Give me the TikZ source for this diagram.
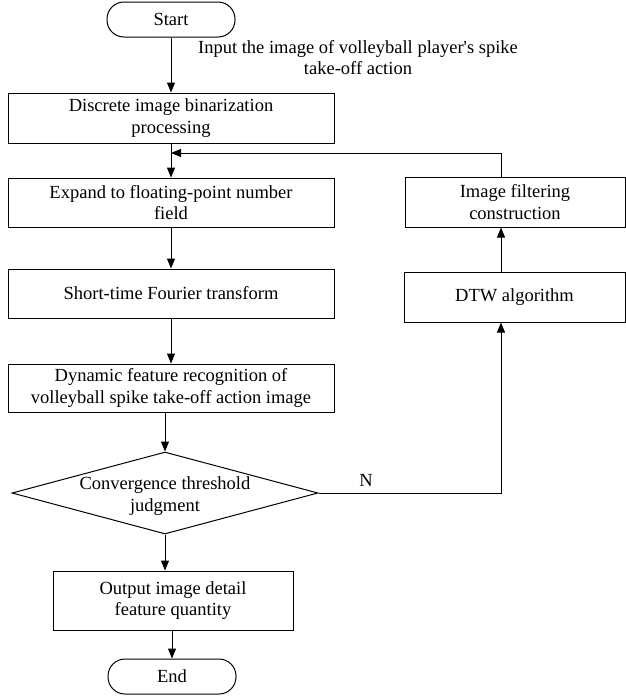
\documentclass[tikz,border=0pt]{standalone}
\usepackage{fontspec}
\setmainfont{Liberation Serif}
\usetikzlibrary{arrows.meta,shapes.geometric}
\begin{document}
\begin{tikzpicture}[x=1pt,y=-1pt,
  font=\fontsize{18.5}{21.5}\selectfont,
  line width=1pt,
  box/.style={draw, rectangle, inner sep=0pt, align=center},
  term/.style={draw, rectangle, rounded corners=17pt, inner sep=0pt, minimum width=128pt, minimum height=35pt},
  arr/.style={-{Triangle[length=10pt,width=8pt]}},
  lbl/.style={align=center, inner sep=0pt}]
\useasboundingbox (0,0) rectangle (626,697);

\node[term] (start) at (171,19.5) {Start};
\node[box, minimum width=326pt, minimum height=50pt] (b1) at (171,118) {Discrete image binarization\\processing};
\node[box, minimum width=326pt, minimum height=49pt] (b2) at (171,202.5) {Expand to floating-point number\\field};
\node[box, minimum width=326pt, minimum height=49pt] (b3) at (171,293.5) {Short-time Fourier transform};
\node[box, minimum width=326pt, minimum height=48pt] (b4) at (171,388) {Dynamic feature recognition of\\volleyball spike take-off action image};
\node[draw, diamond, inner sep=0pt, minimum width=306pt, minimum height=82pt] (dia) at (165,493) {};
\node[lbl] (diat) at (165,496) {Convergence threshold\\judgment};
\node[box, minimum width=240pt, minimum height=59pt] (out) at (173,600.5) {Output image detail\\feature quantity};
\node[term] (end) at (172,676.5) {End};
\node[box, minimum width=220pt, minimum height=50pt] (filt) at (515,202) {Image filtering\\construction};
\node[box, minimum width=221pt, minimum height=50pt] (dtw) at (514.5,297) {DTW algorithm};

\node[lbl] (inlbl) at (358,57.5) {Input the image of volleyball player\textquotesingle s spike\\take-off action};
\node[lbl] (nlbl) at (366,480) {N};

\coordinate (j) at (171,153);
\coordinate (fx) at (501,177);
\coordinate (rc) at (501,493);

\draw[arr] (start.south) -- (b1.north);
\draw[arr] (b1.south) -- (b2.north);
\draw[arr] (b2.south) -- (b3.north);
\draw[arr] (b3.south) -- (b4.north);
\draw[arr] (b4.south -| dia.north) -- (dia.north);
\draw[arr] (dia.south) -- (dia.south |- out.north);
\draw[arr] (out.south -| end.north) -- (end.north);
\draw[arr] (dia.east) -- (rc) -- (rc |- dtw.south);
\draw[arr] (rc |- dtw.north) -- (rc |- filt.south);
\draw[arr] (fx) -- (fx |- j) -- (j);
\end{tikzpicture}
\end{document}
